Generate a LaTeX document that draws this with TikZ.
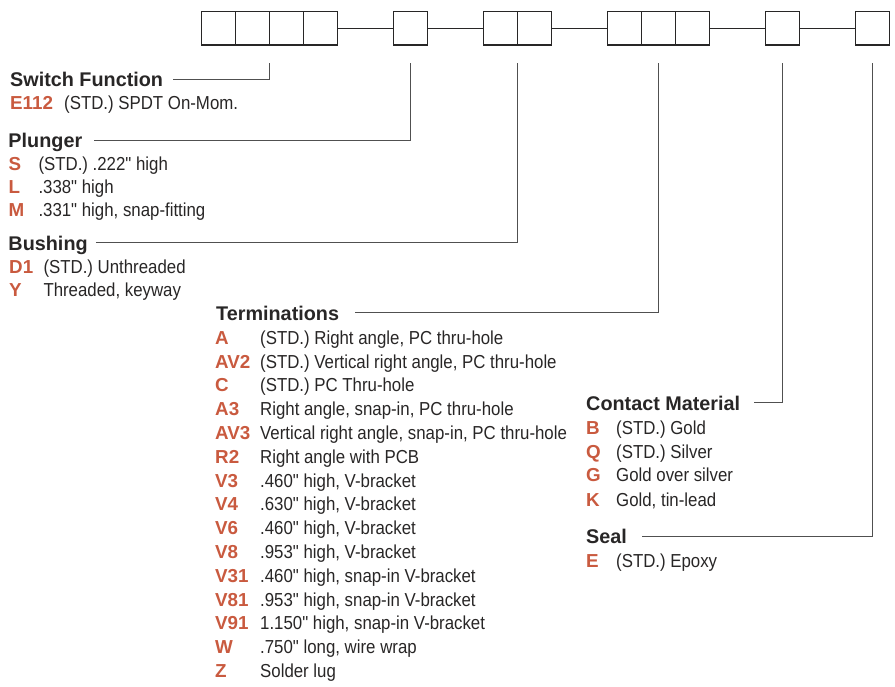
\documentclass[tikz,border=0pt]{standalone}
\usepackage{fontspec}
\setmainfont{Liberation Sans}
\newfontfamily\narrowfont[FakeStretch=0.895]{Liberation Sans}
\usetikzlibrary{positioning}
\definecolor{codered}{RGB}{201,90,63}
\definecolor{ink}{RGB}{40,38,38}
\definecolor{rulegray}{RGB}{80,80,80}

\begin{document}
\begin{tikzpicture}[x=1pt,y=-1pt,node distance=0pt,
  cell/.style={draw=ink,line width=1.2pt,minimum width=34pt,minimum height=33.5pt,inner sep=0pt,outer sep=0pt},
  head/.style={anchor=base west,inner sep=0pt,text depth=0pt,text=ink,font=\fontsize{19.8}{22}\selectfont\bfseries},
  code/.style={anchor=base west,inner sep=0pt,text=codered,font=\fontsize{18.8}{22}\selectfont\bfseries},
  desc/.style={anchor=base west,inner sep=0pt,text=ink,font=\fontsize{18.8}{22}\selectfont\narrowfont},
  lead/.style={draw=rulegray,line width=1.1pt}]

\useasboundingbox (0,0) rectangle (895,686);

\node[cell] (A1) at (218.7,28.25) {};
\node[cell,right=of A1] (A2) {};
\node[cell,right=of A2] (A3) {};
\node[cell,right=of A3] (A4) {};
\node[cell,right=56pt of A4] (B1) {};
\node[cell,right=56pt of B1] (C1) {};
\node[cell,right=of C1] (C2) {};
\node[cell,right=56pt of C2] (D1) {};
\node[cell,right=of D1] (D2) {};
\node[cell,right=of D2] (D3) {};
\node[cell,right=56pt of D3] (E1) {};
\node[cell,right=56pt of E1] (F1) {};

\draw[ink,line width=1pt] (A4) -- (B1);
\draw[ink,line width=1pt] (B1) -- (C1);
\draw[ink,line width=1pt] (C2) -- (D1);
\draw[ink,line width=1pt] (D3) -- (E1);
\draw[ink,line width=1pt] (E1) -- (F1);

\coordinate (U1) at ([yshift=-18pt]A2.south east);
\coordinate (U2) at ([yshift=-18pt]B1.south);
\coordinate (U3) at ([yshift=-18pt]C1.south east);
\coordinate (U4) at ([yshift=-18pt]D2.south);
\coordinate (U5) at ([yshift=-18pt]E1.south);
\coordinate (U6) at ([yshift=-18pt]F1.south);

\node[head] (SF) at (10,86.7) {Switch Function};
\node[code] (SF1) at (10,109.3) {E112};
\node[desc] (SF1d) at (64,109.3) {(STD.) SPDT On-Mom.};

\node[head] (PL) at (8.3,147.3) {Plunger};
\node[code] (PL1) at (8.5,170) {S};
\node[desc] (PL1d) at (38.3,170) {(STD.) .222" high};
\node[code] (PL2) at (8.5,193.3) {L};
\node[desc] (PL2d) at (38.3,193.3) {.338" high};
\node[code] (PL3) at (8.5,216.7) {M};
\node[desc] (PL3d) at (38.3,216.7) {.331" high, snap-fitting};

\node[head] (BU) at (8.3,250) {Bushing};
\node[code] (BU1) at (9,273.3) {D1};
\node[desc] (BU1d) at (43.3,273.3) {(STD.) Unthreaded};
\node[code] (BU2) at (9,296.7) {Y};
\node[desc] (BU2d) at (43.3,296.7) {Threaded, keyway};

\node[head] (TE) at (216,320) {Terminations};
\node[code] (TE1) at (215,344.3) {A};
\node[desc] (TE1d) at (260,344.3) {(STD.) Right angle, PC thru-hole};
\node[code] (TE2) at (215,368.1) {AV2};
\node[desc] (TE2d) at (260,368.1) {(STD.) Vertical right angle, PC thru-hole};
\node[code] (TE3) at (215,391.9) {C};
\node[desc] (TE3d) at (260,391.9) {(STD.) PC Thru-hole};
\node[code] (TE4) at (215,415.7) {A3};
\node[desc] (TE4d) at (260,415.7) {Right angle, snap-in, PC thru-hole};
\node[code] (TE5) at (215,439.5) {AV3};
\node[desc] (TE5d) at (260,439.5) {Vertical right angle, snap-in, PC thru-hole};
\node[code] (TE6) at (215,463.3) {R2};
\node[desc] (TE6d) at (260,463.3) {Right angle with PCB};
\node[code] (TE7) at (215,487.1) {V3};
\node[desc] (TE7d) at (260,487.1) {.460" high, V-bracket};
\node[code] (TE8) at (215,510.8) {V4};
\node[desc] (TE8d) at (260,510.8) {.630" high, V-bracket};
\node[code] (TE9) at (215,534.6) {V6};
\node[desc] (TE9d) at (260,534.6) {.460" high, V-bracket};
\node[code] (TE10) at (215,558.4) {V8};
\node[desc] (TE10d) at (260,558.4) {.953" high, V-bracket};
\node[code] (TE11) at (215,582.2) {V31};
\node[desc] (TE11d) at (260,582.2) {.460" high, snap-in V-bracket};
\node[code] (TE12) at (215,606) {V81};
\node[desc] (TE12d) at (260,606) {.953" high, snap-in V-bracket};
\node[code] (TE13) at (215,629.8) {V91};
\node[desc] (TE13d) at (260,629.8) {1.150" high, snap-in V-bracket};
\node[code] (TE14) at (215,653.6) {W};
\node[desc] (TE14d) at (260,653.6) {.750" long, wire wrap};
\node[code] (TE15) at (215,677.4) {Z};
\node[desc] (TE15d) at (260,677.4) {Solder lug};

\node[head] (CM) at (586,410) {Contact Material};
\node[code] (CM1) at (586,434.3) {B};
\node[desc] (CM1d) at (616,434.3) {(STD.) Gold};
\node[code] (CM2) at (586,458.3) {Q};
\node[desc] (CM2d) at (616,458.3) {(STD.) Silver};
\node[code] (CM3) at (586,481.7) {G};
\node[desc] (CM3d) at (616,481.7) {Gold over silver};
\node[code] (CM4) at (586,506) {K};
\node[desc] (CM4d) at (616,506) {Gold, tin-lead};

\node[head] (SE) at (586,543.3) {Seal};
\node[code] (SE1) at (586,567.3) {E};
\node[desc] (SE1d) at (616,567.3) {(STD.) Epoxy};

\draw[lead] ([xshift=10pt]SF.east) -| (U1);
\draw[lead] ([xshift=12pt]PL.east) -| (U2);
\draw[lead] ([xshift=8pt]BU.east) -| (U3);
\draw[lead] ([xshift=16pt]TE.east) -| (U4);
\draw[lead] ([xshift=14pt]CM.east) -| (U5);
\draw[lead] ([xshift=15pt]SE.east) -| (U6);

\end{tikzpicture}
\end{document}
